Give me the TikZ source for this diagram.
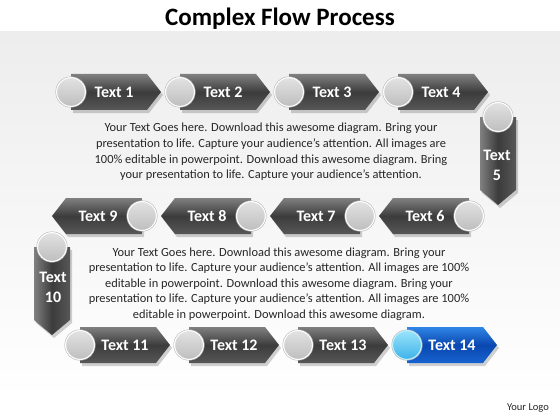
\documentclass[tikz,border=0pt]{standalone}
\usepackage{fontspec}
\setmainfont{Carlito}
\definecolor{gTop}{HTML}{808080}
\definecolor{gMid}{HTML}{3C3C3C}
\definecolor{gBot}{HTML}{575757}
\definecolor{bTop}{HTML}{2F86E6}
\definecolor{bMid}{HTML}{0A47B0}
\definecolor{bBot}{HTML}{1763D0}
\definecolor{ballIn}{HTML}{E2E2E2}
\definecolor{ballOut}{HTML}{BEBEBE}
\definecolor{bballIn}{HTML}{9BE4FB}
\definecolor{bballOut}{HTML}{3DB2E8}
\definecolor{bgGray}{HTML}{EDEDED}
\definecolor{txt}{HTML}{262626}
\tikzset{
  graybody/.style={top color=gTop, bottom color=gBot, middle color=gMid},
  bluebody/.style={top color=bTop, bottom color=bBot, middle color=bMid},
  vbody/.style={left color=gTop, right color=gBot, middle color=gMid},
  grayball/.style={top color=ballIn, bottom color=ballOut, draw=white, line width=1.3pt},
  blueball/.style={top color=bballIn, bottom color=bballOut, draw=bballIn!60!white, line width=1.3pt},
  curbody/.style={graybody},
  curball/.style={grayball},
  shad/.style={fill=black, opacity=0.18},
  ring/.style={draw=black!30, line width=0.4pt},
  lbl/.style={text=white, font=\bfseries\fontsize{16}{20}\selectfont, align=center, inner sep=0pt},
  para/.style={text=txt, font=\fontsize{12.4}{15.6}\selectfont, align=center, inner sep=0pt},
  rarr/.pic={
    \fill[shad] (2,-15) -- (78,-15) -- (92,3) -- (78,21) -- (2,21) -- cycle;
    \path[curbody] (0,-18) -- (76,-18) -- (90,0) -- (76,18) -- (0,18) -- cycle;
    \path[curball] (0,0) circle (14.5);
    \path[ring] (0,0) circle (15.3);
  },
  larr/.pic={
    \fill[shad] (2,-15) -- (-74,-15) -- (-88,3) -- (-74,21) -- (2,21) -- cycle;
    \path[curbody] (0,-18) -- (-76,-18) -- (-90,0) -- (-76,18) -- (0,18) -- cycle;
    \path[curball] (0,0) circle (14.5);
    \path[ring] (0,0) circle (15.3);
  },
  varr/.pic={
    \fill[shad] (-16,3) -- (20,3) -- (20,76) -- (2,91) -- (-16,76) -- cycle;
    \path[vbody] (-18,0) -- (18,0) -- (18,73) -- (0,88) -- (-18,73) -- cycle;
    \path[curball] (0,0) circle (14.5);
    \path[ring] (0,0) circle (15.3);
  }
}
\begin{document}
\begin{tikzpicture}[x=1pt,y=-1pt]
\useasboundingbox (0,0) rectangle (560,420);
\fill[white] (0,0) rectangle (560,420);
\path[top color=bgGray, bottom color=white] (0,32) rectangle (560,400);
\node[font=\bfseries\fontsize{25}{30}\selectfont, text=black] (title) at (280,19) {Complex Flow Process};
% row 1
\pic at (71,92) {rarr};
\pic at (180,92) {rarr};
\pic at (289,92) {rarr};
\pic at (398,92) {rarr};
\node[lbl] (t1) at (114,92) {Text 1};
\node[lbl] (t2) at (223,92) {Text 2};
\node[lbl] (t3) at (332,92) {Text 3};
\node[lbl] (t4) at (441,92) {Text 4};
% vertical 5
\pic at (498,117) {varr};
\node[lbl] (t5) at (497,165) {Text\\5};
% row 2
\pic at (469,216) {larr};
\pic at (360,216) {larr};
\pic at (251,216) {larr};
\pic at (142,216) {larr};
\node[lbl] (t6) at (425,216) {Text 6};
\node[lbl] (t7) at (316,216) {Text 7};
\node[lbl] (t8) at (207,216) {Text 8};
\node[lbl] (t9) at (98,216) {Text 9};
% vertical 10
\pic at (52,247) {varr};
\node[lbl] (t10) at (53,287) {Text\\10};
% row 3
\pic at (80,345) {rarr};
\pic at (189,345) {rarr};
\pic at (298,345) {rarr};
\pic[curbody/.style={bluebody}, curball/.style={blueball}] at (407,345) {rarr};
\node[lbl] (t11) at (125,345) {Text 11};
\node[lbl] (t12) at (234,345) {Text 12};
\node[lbl] (t13) at (343,345) {Text 13};
\node[lbl] (t14) at (452,345) {Text 14};
% paragraphs
\node[para] (p1) at (271,152) {Your Text Goes here. Download this awesome diagram. Bring your\\presentation to life. Capture your audience’s attention. All images are\\100\% editable in powerpoint. Download this awesome diagram. Bring\\your presentation to life. Capture your audience’s attention.};
\node[para] (p2) at (279,284) {Your Text Goes here. Download this awesome diagram. Bring your\\presentation to life. Capture your audience’s attention. All images are 100\%\\editable in powerpoint. Download this awesome diagram. Bring your\\presentation to life. Capture your audience’s attention. All images are 100\%\\editable in powerpoint. Download this awesome diagram.};
\node[text=txt, font=\fontsize{10.5}{12}\selectfont] (logo) at (528,408) {Your Logo};
\end{tikzpicture}
\end{document}
